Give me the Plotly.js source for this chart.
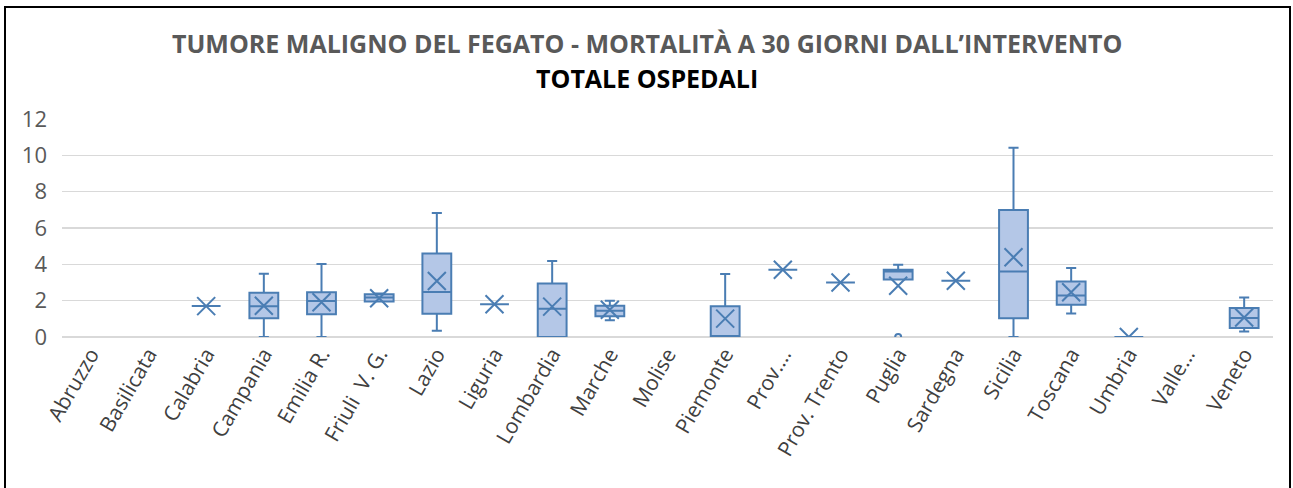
<!DOCTYPE html>
<html>
<head>
<meta charset="utf-8">
<script src="https://cdn.plot.ly/plotly-3.0.1.min.js"></script>
<style>
  html, body { margin: 0; padding: 0; background: #fff; }
  #chart { position: absolute; left: 0; top: 0; width: 1293px; height: 488px; }
  #frame { position: absolute; left: 4px; top: 6px; width: 1283px; height: 600px;
           border: 2px solid #000; pointer-events: none; }
</style>
</head>
<body>
<div id="chart"></div>
<div id="frame"></div>
<script>
// Categories (regions)
const categories = ["Abruzzo", "Basilicata", "Calabria", "Campania", "Emilia R.", "Friuli  V. G.",
  "Lazio", "Liguria", "Lombardia", "Marche", "Molise", "Piemonte", "Prov.…", "Prov. Trento",
  "Puglia", "Sardegna", "Sicilia", "Toscana", "Umbria", "Valle…", "Veneto"];

// Box statistics per region (null = no data)
const lowerWhisker = [null, null, 1.7, 0.0, 0.0, 1.95, 0.35, 1.8, 0.0, 0.92, null, 0.0, 3.7, 3.0, 3.17, 3.1, 0.0, 1.3, 0.0, null, 0.3];
const q1Values     = [null, null, 1.7, 1.03, 1.25, 1.95, 1.28, 1.8, 0.0, 1.14, null, 0.0, 3.7, 3.0, 3.17, 3.1, 1.03, 1.78, 0.0, null, 0.5];
const medianValues = [null, null, 1.7, 1.69, 1.98, 2.17, 2.48, 1.8, 1.56, 1.45, null, 0.0, 3.7, 3.0, 3.6, 3.1, 3.6, 2.29, 0.0, null, 1.05];
const q3Values     = [null, null, 1.7, 2.44, 2.46, 2.35, 4.6, 1.8, 2.95, 1.72, null, 1.69, 3.7, 3.0, 3.7, 3.1, 6.99, 3.06, 0.0, null, 1.6];
const upperWhisker = [null, null, 1.7, 3.48, 4.02, 2.4, 6.82, 1.8, 4.18, 2.0, null, 3.47, 3.7, 3.0, 3.98, 3.1, 10.42, 3.8, 0.0, null, 2.17];
const meanValues   = [null, null, 1.7, 1.72, 1.91, 2.13, 3.08, 1.8, 1.67, 1.5, null, 1.01, 3.7, 3.0, 2.82, 3.1, 4.39, 2.46, 0.0, null, 1.07];

// Outliers
const outlierCategories = ["Puglia"];
const outlierValues = [0.0];

const lineColor = "#4a7db3";
const fillColor = "#b4c7e7";

const idx = categories.map((c, i) => i).filter(i => q1Values[i] !== null);
const pick = arr => idx.map(i => arr[i]);

const boxTrace = {
  type: "box",
  x: pick(categories),
  q1: pick(q1Values),
  median: pick(medianValues),
  q3: pick(q3Values),
  lowerfence: pick(lowerWhisker),
  upperfence: pick(upperWhisker),
  width: 0.5,
  whiskerwidth: 0.35,
  fillcolor: fillColor,
  line: { color: lineColor, width: 2 },
  boxpoints: false,
  hoverinfo: "skip",
  showlegend: false
};

const meanTrace = {
  type: "scatter",
  mode: "markers",
  x: pick(categories),
  y: pick(meanValues),
  marker: { symbol: "x-thin-open", size: 18, color: lineColor, line: { color: lineColor, width: 2 } },
  hoverinfo: "skip",
  showlegend: false
};

const outlierTrace = {
  type: "scatter",
  mode: "markers",
  x: outlierCategories,
  y: outlierValues,
  marker: { symbol: "circle-open", size: 6, color: lineColor, line: { color: lineColor, width: 2 } },
  hoverinfo: "skip",
  showlegend: false
};

const layout = {
  width: 1293,
  height: 488,
  margin: { l: 62, r: 20, t: 119, b: 151 },
  paper_bgcolor: "#ffffff",
  plot_bgcolor: "#ffffff",
  font: { family: "Open Sans, sans-serif", color: "#595959" },
  xaxis: {
    type: "category",
    categoryorder: "array",
    categoryarray: categories,
    range: [-0.5, categories.length - 0.5],
    tickangle: -60,
    tickfont: { size: 21, color: "#404040" },
    showgrid: false,
    showline: false,
    zeroline: false,
    ticks: ""
  },
  yaxis: {
    range: [0, 12],
    tickvals: [0, 2, 4, 6, 8, 10, 12],
    tickfont: { size: 22, color: "#595959" },
    gridcolor: "#d9d9d9",
    gridwidth: 1.5,
    zeroline: true,
    zerolinecolor: "#d9d9d9",
    zerolinewidth: 1.5,
    showline: false,
    ticks: "",
    ticklabelstandoff: 14
  },
  annotations: [
    { text: "<b>TUMORE MALIGNO DEL FEGATO - MORTALITÀ A 30 GIORNI DALL’INTERVENTO</b>",
      xref: "paper", yref: "paper", x: 0.483, y: 1, yshift: 76, xanchor: "center", yanchor: "middle",
      showarrow: false, font: { size: 25, color: "#595959", family: "Open Sans, sans-serif" } },
    { text: "<b>TOTALE OSPEDALI</b>",
      xref: "paper", yref: "paper", x: 0.483, y: 1, yshift: 41, xanchor: "center", yanchor: "middle",
      showarrow: false, font: { size: 25, color: "#000000", family: "Open Sans, sans-serif" } }
  ],
  showlegend: false
};

Plotly.newPlot("chart", [boxTrace, meanTrace, outlierTrace], layout, { displayModeBar: false, staticPlot: true });
</script>
</body>
</html>
